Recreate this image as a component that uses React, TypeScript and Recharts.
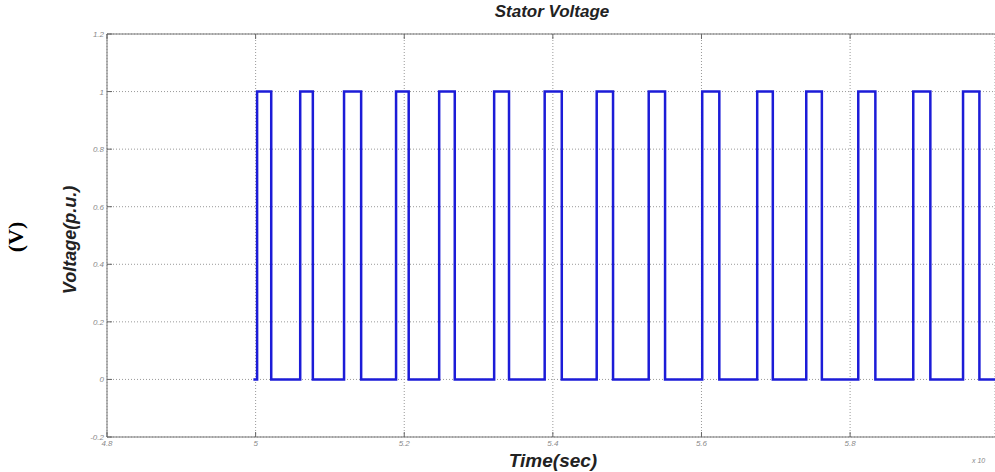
import { LineChart, Line, XAxis, YAxis, CartesianGrid } from 'recharts';

// rising / falling edges of the stator voltage pulses (time axis, x10^?)
const riseTimes = [5.002, 5.06, 5.119, 5.189, 5.247, 5.321, 5.389, 5.459, 5.529, 5.601, 5.675, 5.741, 5.811, 5.885, 5.952];
const fallTimes = [5.021, 5.077, 5.142, 5.206, 5.268, 5.341, 5.412, 5.481, 5.551, 5.624, 5.696, 5.762, 5.834, 5.908, 5.974];
const startTime = 4.997;
const endTime = 5.995;

const xTicks = [4.8, 5, 5.2, 5.4, 5.6, 5.8];
const yTicks = [-0.2, 0, 0.2, 0.4, 0.6, 0.8, 1, 1.2];

const data = [{ t: startTime, v: 0 }];
riseTimes.forEach((r, i) => {
  data.push({ t: r, v: 1 });
  data.push({ t: fallTimes[i], v: 0 });
});
data.push({ t: endTime, v: 0 });

const tickFont = { fontSize: 8, fontStyle: 'italic', fill: '#8a8a8a', fontFamily: 'Liberation Sans, Arial, sans-serif' };
const fmt = (v: number) => String(Math.round(v * 10) / 10);

const BottomTick = ({ x, y, payload }: any) => (
  <g>
    <line x1={x} x2={x} y1={y} y2={y - 5} stroke="#666" />
    <text x={x} y={y + 9} textAnchor="middle" {...tickFont}>{fmt(payload.value)}</text>
  </g>
);

const TopTick = ({ x, y }: any) => (
  <line x1={x} x2={x} y1={y} y2={y + 5} stroke="#666" />
);

const LeftTick = ({ x, y, payload }: any) => (
  <g>
    <line x1={x} x2={x + 5} y1={y} y2={y} stroke="#666" />
    <text x={x - 3} y={y + 3} textAnchor="end" {...tickFont}>{fmt(payload.value)}</text>
  </g>
);

const labelFont = { fontFamily: 'Liberation Sans, Arial, sans-serif', fontWeight: 700, fontStyle: 'italic', color: '#222' };

export default function App() {
  return (
    <div style={{ position: 'absolute', left: 0, top: 0, width: 995, height: 472, background: '#fff', overflow: 'hidden' }}>
      <LineChart width={995} height={472} data={data} margin={{ top: 0, right: 0, bottom: 0, left: 0 }}>
        <CartesianGrid stroke="#999" strokeDasharray="1 2" />
        <XAxis
          dataKey="t"
          type="number"
          domain={[4.8, endTime]}
          ticks={xTicks}
          allowDataOverflow
          height={35}
          tickSize={0}
          tickMargin={0}
          tickLine={false}
          axisLine={{ stroke: '#777' }}
          tick={<BottomTick />}
        />
        <XAxis
          xAxisId="top"
          orientation="top"
          dataKey="t"
          type="number"
          domain={[4.8, endTime]}
          ticks={xTicks}
          allowDataOverflow
          height={34}
          tickSize={0}
          tickMargin={0}
          tickLine={false}
          axisLine={{ stroke: '#777' }}
          tick={<TopTick />}
        />
        <YAxis
          type="number"
          domain={[-0.2, 1.2]}
          ticks={yTicks}
          width={107}
          tickSize={0}
          tickMargin={0}
          tickLine={false}
          axisLine={{ stroke: '#777' }}
          tick={<LeftTick />}
        />
        <Line
          type="stepAfter"
          dataKey="v"
          stroke="#1c1cd8"
          strokeWidth={2.5}
          dot={false}
          isAnimationActive={false}
        />
      </LineChart>
      <div style={{ ...labelFont, position: 'absolute', left: 452, width: 200, top: 2, textAlign: 'center', fontSize: 17 }}>
        Stator Voltage
      </div>
      <div style={{ ...labelFont, position: 'absolute', left: 453, width: 200, top: 450, lineHeight: '22px', textAlign: 'center', fontSize: 19 }}>
        Time(sec)
      </div>
      <div style={{ ...labelFont, position: 'absolute', left: 70, top: 240, width: 0, height: 0 }}>
        <div style={{ position: 'absolute', transform: 'translate(-50%, -50%) rotate(-90deg)', whiteSpace: 'nowrap', fontSize: 18 }}>
          Voltage(p.u.)
        </div>
      </div>
      <div style={{ position: 'absolute', left: 16, top: 237, width: 0, height: 0 }}>
        <div style={{ position: 'absolute', transform: 'translate(-50%, -50%) rotate(-90deg)', whiteSpace: 'nowrap', fontSize: 22, fontWeight: 700, fontFamily: 'Liberation Serif, Times New Roman, serif' }}>
          (V)
        </div>
      </div>
      <div style={{ position: 'absolute', left: 972, top: 457, fontSize: 7, fontStyle: 'italic', color: '#888', fontFamily: 'Liberation Sans, Arial, sans-serif' }}>
        x 10
      </div>
    </div>
  );
}
